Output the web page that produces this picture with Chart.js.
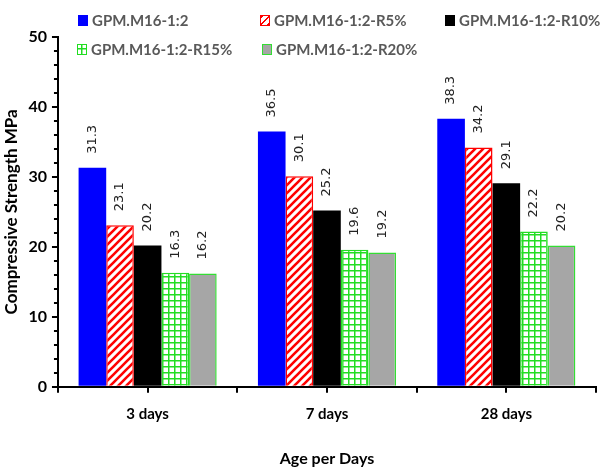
<!DOCTYPE html>
<html>
<head>
<meta charset="utf-8">
<script src="https://cdn.jsdelivr.net/npm/chart.js@4.4.1/dist/chart.umd.min.js"></script>
<style>
  body { margin: 0; background: #fff; }
  #wrap { position: relative; width: 600px; height: 470px; }
  #legend { position: absolute; left: 0; top: 0; width: 600px; height: 60px; font: bold 15px Lato, sans-serif; color: #595959; }
  .item { position: absolute; display: flex; align-items: center; white-space: nowrap; height: 20px; }
  .sw { width: 10px; height: 11px; margin-right: 4px; box-sizing: border-box; }
</style>
</head>
<body>
<div id="wrap">
  <canvas id="chart" width="600" height="470"></canvas>
  <div id="legend"></div>
</div>
<script>
const categories = ['3 days', '7 days', '28 days'];
const seriesNames = ['GPM.M16-1:2', 'GPM.M16-1:2-R5%', 'GPM.M16-1:2-R10%', 'GPM.M16-1:2-R15%', 'GPM.M16-1:2-R20%'];
const plain = [31.3, 36.5, 38.3];
const r5 = [23.1, 30.1, 34.2];
const r10 = [20.2, 25.2, 29.1];
const r15 = [16.3, 19.6, 22.2];
const r20 = [16.2, 19.2, 20.2];
const yTicks = [0, 10, 20, 30, 40, 50];
const yMinorStep = 2;

function stripePattern() {
    const c = document.createElement('canvas');
    c.width = 8; c.height = 8;
    const g = c.getContext('2d');
    g.fillStyle = '#fff';
    g.fillRect(0, 0, 8, 8);
    g.strokeStyle = '#ff0000';
    g.lineWidth = 2.6;
    g.beginPath();
    g.moveTo(-2, 10); g.lineTo(10, -2);
    g.moveTo(-6, 6); g.lineTo(6, -6);
    g.moveTo(2, 14); g.lineTo(14, 2);
    g.stroke();
    return g.createPattern(c, 'repeat');
}

function gridPattern() {
    const c = document.createElement('canvas');
    c.width = 6; c.height = 6;
    const g = c.getContext('2d');
    g.fillStyle = '#fff';
    g.fillRect(0, 0, 6, 6);
    g.fillStyle = '#22dd22';
    g.fillRect(0, 0, 6, 1.5);
    g.fillRect(0, 0, 1.5, 6);
    return g.createPattern(c, 'repeat');
}

const styles = [
    { bg: '#0000ff', border: '#0000ff', css: 'background:#0000ff;' },
    { bg: stripePattern(), border: '#ff0000', css: 'border:1.5px solid #f00;background:repeating-linear-gradient(135deg,#f00 0 2px,#fff 2px 5px);' },
    { bg: '#000000', border: '#000000', css: 'background:#000;' },
    { bg: gridPattern(), border: '#22dd22', css: 'border:1.5px solid #2d2;background-color:#fff;background-image:linear-gradient(#2d2 0 0),linear-gradient(#2d2 0 0);background-size:100% 1.5px,1.5px 100%;background-position:0 50%,50% 0;background-repeat:no-repeat;' },
    { bg: '#a6a6a6', border: '#33dd33', css: 'border:1px solid #3d3;background:#a6a6a6;' }
];
const values = [plain, r5, r10, r15, r20];

// html legend, two rows like the original
const legendPos = [[78, 20], [260, 20], [445, 20], [77, 49], [262, 49]];
const legend = document.getElementById('legend');
seriesNames.forEach((name, i) => {
    const el = document.createElement('div');
    el.className = 'item';
    el.style.left = legendPos[i][0] + 'px';
    el.style.top = (legendPos[i][1] - 10) + 'px';
    el.innerHTML = `<span class="sw" style="${styles[i].css}"></span>${name}`;
    legend.appendChild(el);
});

const valueLabels = {
    id: 'valueLabels',
    afterDatasetsDraw(chart) {
        const ctx = chart.ctx;
        ctx.save();
        ctx.font = '13px "DejaVu Sans", sans-serif';
        ctx.fillStyle = '#222';
        ctx.textAlign = 'left';
        ctx.textBaseline = 'middle';
        chart.data.datasets.forEach((ds, i) => {
            chart.getDatasetMeta(i).data.forEach((bar, j) => {
                ctx.save();
                ctx.translate(bar.x, bar.y - 14);
                ctx.rotate(-Math.PI / 2);
                ctx.fillText(ds.data[j].toFixed(1), 0, 0);
                ctx.restore();
            });
        });
        ctx.restore();
    }
};

const extraTicks = {
    id: 'extraTicks',
    afterDraw(chart) {
        const x = chart.scales.x;
        const y = chart.scales.y;
        const ctx = chart.ctx;
        ctx.save();
        ctx.strokeStyle = '#000';
        ctx.lineWidth = 2;
        categories.forEach((c, i) => {
            const px = Math.round(x.getPixelForValue(i));
            ctx.beginPath();
            ctx.moveTo(px, x.top);
            ctx.lineTo(px, x.top + 6);
            ctx.stroke();
        });
        for (let v = 0; v <= y.max; v += yMinorStep) {
            if (yTicks.includes(v)) continue;
            const py = Math.round(y.getPixelForValue(v));
            ctx.beginPath();
            ctx.moveTo(y.right, py);
            ctx.lineTo(y.right - 4, py);
            ctx.stroke();
        }
        ctx.restore();
    }
};

new Chart(document.getElementById('chart'), {
    type: 'bar',
    data: {
        labels: categories,
        datasets: seriesNames.map((name, i) => ({
            label: name,
            data: values[i],
            backgroundColor: styles[i].bg,
            borderColor: styles[i].border,
            borderWidth: i === 0 || i === 2 ? 0 : 1.5,
            categoryPercentage: 0.77,
            barPercentage: 1
        }))
    },
    options: {
        responsive: false,
        animation: false,
        layout: { padding: { top: 37, right: 4, left: 0, bottom: 0 } },
        plugins: {
            legend: { display: false },
            tooltip: { enabled: false }
        },
        scales: {
            x: {
                grid: { drawOnChartArea: false, color: '#000', lineWidth: 2, tickLength: 6, offset: true },
                border: { color: '#000', width: 2 },
                ticks: { color: '#000', font: { family: 'Lato', size: 15, weight: 'bold' }, padding: 12 },
                title: { display: true, text: 'Age per Days', color: '#000', font: { family: 'Lato', size: 16, weight: 'bold' }, padding: { top: 14, bottom: 2 } }
            },
            y: {
                min: 0,
                max: 50,
                afterBuildTicks: scale => { scale.ticks = yTicks.map(v => ({ value: v })); },
                grid: { drawOnChartArea: false, color: '#000', lineWidth: 2, tickLength: 6 },
                border: { color: '#000', width: 2 },
                ticks: { color: '#000', font: { family: 'Lato', size: 16, weight: 'bold' }, padding: 5 },
                title: { display: true, text: 'Compressive Strength MPa', color: '#000', font: { family: 'Lato', size: 17, weight: 'bold' }, padding: { top: 1, bottom: 2 } }
            }
        }
    },
    plugins: [valueLabels, extraTicks]
});
</script>
</body>
</html>
